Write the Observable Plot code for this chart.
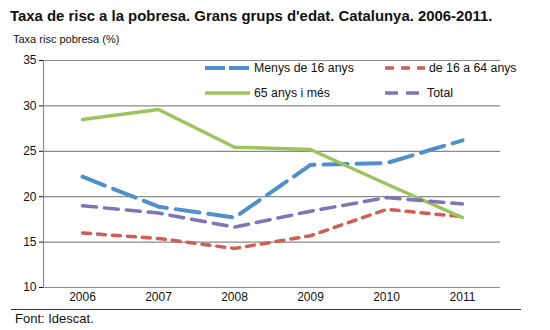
<!DOCTYPE html>
<html>
<head>
<meta charset="utf-8">
<script src="https://cdn.jsdelivr.net/npm/d3@7"></script>
<script src="https://cdn.jsdelivr.net/npm/@observablehq/plot@0.6"></script>
<style>
  body { margin: 0; width: 550px; height: 330px; background: #fff; font-family: "Liberation Sans", Arial, sans-serif; color: #111; position: relative; overflow: hidden; }
  #title { position: absolute; left: 10px; top: 8px; font-size: 14.9px; font-weight: bold; white-space: nowrap; }
  #subtitle { position: absolute; left: 13px; top: 33px; font-size: 11px; white-space: nowrap; }
  #chart { position: absolute; left: 0; top: 50px; }
  #legend { position: absolute; left: 0; top: 0; width: 550px; height: 330px; pointer-events: none; }
  .lg { position: absolute; font-size: 12.3px; white-space: nowrap; display: flex; align-items: center; }
  .lg svg { margin-right: 4px; }
  #rule { position: absolute; left: 11px; top: 309px; width: 510px; height: 0; border-top: 1.5px solid #333; }
  #caption { position: absolute; left: 15px; top: 311px; font-size: 13px; }
</style>
</head>
<body>
<div id="title">Taxa de risc a la pobresa. Grans grups d'edat. Catalunya. 2006-2011.</div>
<div id="subtitle">Taxa risc pobresa (%)</div>
<div id="chart"></div>
<div id="legend"></div>
<div id="rule"></div>
<div id="caption">Font: Idescat.</div>
<script>
const years = ["2006", "2007", "2008", "2009", "2010", "2011"];
const seriesNames = ["Menys de 16 anys", "de 16 a 64 anys", "65 anys i més", "Total"];
const menys16 = [22.2, 18.9, 17.7, 23.5, 23.7, 26.2];
const de16a64 = [16.0, 15.4, 14.3, 15.7, 18.6, 17.8];
const anys65 = [28.5, 29.6, 25.45, 25.2, 21.4, 17.7];
const total = [19.0, 18.2, 16.65, 18.4, 19.9, 19.2];
const yTicks = [10, 15, 20, 25, 30, 35];

const colors = ["#4f8fcc", "#cd5f55", "#9cc45c", "#8173b7"];
const dashes = ["24,9", "8,7", null, "14,8"];
const widths = [4, 3.5, 3.5, 3.5];
const values = [menys16, de16a64, anys65, total];

const rows = values.map((vals, s) => years.map((yr, i) => ({year: yr, value: vals[i], series: seriesNames[s]})));

const lineMarks = rows.map((data, s) => Plot.line(data, {
  x: "year", y: "value",
  stroke: colors[s], strokeWidth: widths[s],
  strokeDasharray: dashes[s] || undefined,
  strokeLinejoin: "round"
}));

const chart = Plot.plot({
  width: 550,
  height: 255,
  marginLeft: 43,
  marginRight: 50,
  marginTop: 10,
  marginBottom: 18,
  style: {fontFamily: "Liberation Sans, Arial, sans-serif", fontSize: "12px", color: "#111", background: "transparent"},
  x: {type: "point", domain: years, padding: 0.5, label: null, tickSize: 0, tickPadding: 5},
  y: {domain: [10, 35], ticks: yTicks, label: null, tickSize: 4, tickPadding: 3},
  marks: [
    Plot.ruleY(yTicks, {stroke: "#8a8a8a", strokeWidth: 1.2}),
    Plot.frame({anchor: "left", stroke: "#8a8a8a", strokeWidth: 1.2}),
    ...lineMarks
  ]
});
document.getElementById("chart").appendChild(chart);

// Legend (HTML overlay, inside the plot area)
const legendPos = [
  {left: 205, top: 61},
  {left: 385, top: 61},
  {left: 205, top: 86},
  {left: 385, top: 86}
];
const swW = [45, 40, 45, 38];
const legend = document.getElementById("legend");
seriesNames.forEach((name, s) => {
  const div = document.createElement("div");
  div.className = "lg";
  div.style.left = legendPos[s].left + "px";
  div.style.top = legendPos[s].top + "px";
  const w = swW[s];
  const dash = s === 0 ? "20,4" : s === 1 ? "9,7" : s === 3 ? "13,8" : "none";
  div.innerHTML = `<svg width="${w}" height="14"><line x1="0" y1="7" x2="${w}" y2="7" stroke="${colors[s]}" stroke-width="${widths[s]}" stroke-dasharray="${dash}"/></svg><span>${name}</span>`;
  legend.appendChild(div);
});
</script>
</body>
</html>
